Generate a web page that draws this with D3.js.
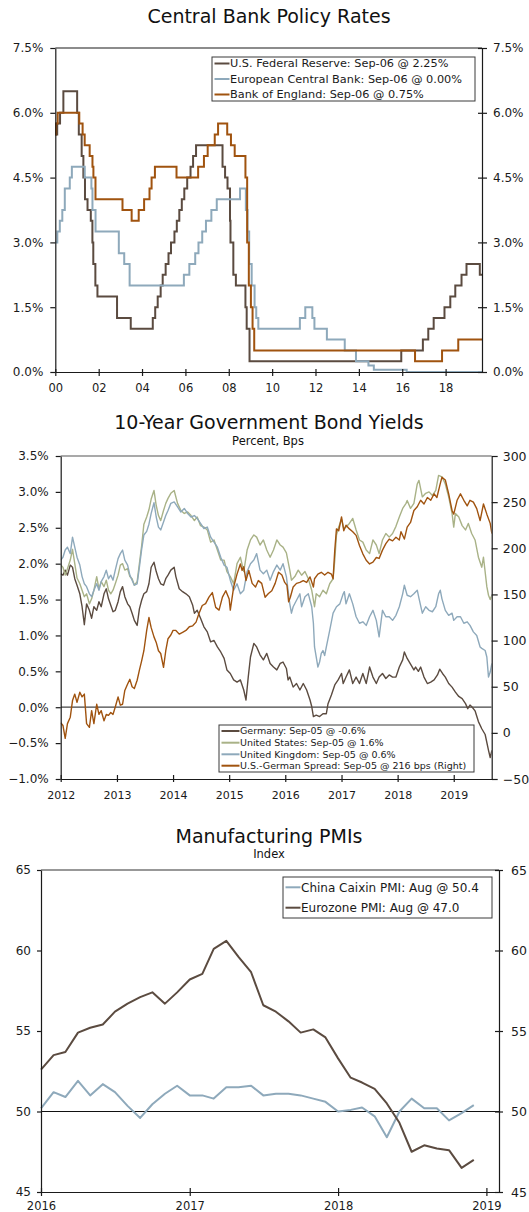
<!DOCTYPE html>
<html><head><meta charset="utf-8">
<script src="https://cdn.jsdelivr.net/npm/d3@7"></script>
<style>
body{margin:0;background:#fff;}
svg{display:block;font-family:"DejaVu Sans",Verdana,sans-serif;}
</style></head><body>
<svg id="c" width="529" height="1212"></svg>
<script>
// ---------- Chart 1 data: central bank policy rates (step changes) ----------
const fedRate = [
["2000-01-01",5.50],["2000-02-02",5.75],["2000-03-21",6.00],["2000-05-16",6.50],
["2001-01-03",6.00],["2001-01-31",5.50],["2001-03-20",5.00],["2001-04-18",4.50],["2001-05-15",4.00],["2001-06-27",3.75],["2001-08-21",3.50],["2001-09-17",3.00],["2001-10-02",2.50],["2001-11-06",2.00],["2001-12-11",1.75],
["2002-11-06",1.25],["2003-06-25",1.00],
["2004-06-30",1.25],["2004-08-10",1.50],["2004-09-21",1.75],["2004-11-10",2.00],["2004-12-14",2.25],
["2005-02-02",2.50],["2005-03-22",2.75],["2005-05-03",3.00],["2005-06-30",3.25],["2005-08-09",3.50],["2005-09-20",3.75],["2005-11-01",4.00],["2005-12-13",4.25],
["2006-01-31",4.50],["2006-03-28",4.75],["2006-05-10",5.00],["2006-06-29",5.25],
["2007-09-18",4.75],["2007-10-31",4.50],["2007-12-11",4.25],
["2008-01-22",3.50],["2008-01-30",3.00],["2008-03-18",2.25],["2008-04-30",2.00],["2008-10-08",1.50],["2008-10-29",1.00],["2008-12-16",0.25],
["2015-12-16",0.50],["2016-12-14",0.75],["2017-03-15",1.00],["2017-06-14",1.25],["2017-12-13",1.50],["2018-03-21",1.75],["2018-06-13",2.00],["2018-09-26",2.25],["2018-12-19",2.50],["2019-07-31",2.25],["2019-09-06",2.25]
];
const ecbRate = [
["2000-01-01",3.00],["2000-02-04",3.25],["2000-03-17",3.50],["2000-04-28",3.75],["2000-06-09",4.25],["2000-09-01",4.50],["2000-10-06",4.75],
["2001-05-11",4.50],["2001-08-31",4.25],["2001-09-18",3.75],["2001-11-09",3.25],
["2002-12-06",2.75],["2003-03-07",2.50],["2003-06-06",2.00],
["2005-12-06",2.25],["2006-03-08",2.50],["2006-06-15",2.75],["2006-08-09",3.00],["2006-10-11",3.25],["2006-12-13",3.50],["2007-03-14",3.75],["2007-06-13",4.00],
["2008-07-09",4.25],["2008-10-15",3.75],["2008-11-12",3.25],["2008-12-10",2.50],
["2009-01-21",2.00],["2009-03-11",1.50],["2009-04-08",1.25],["2009-05-13",1.00],
["2011-04-13",1.25],["2011-07-13",1.50],["2011-11-09",1.25],["2011-12-14",1.00],
["2012-07-11",0.75],["2013-05-08",0.50],["2013-11-13",0.25],["2014-06-11",0.15],["2014-09-10",0.05],["2016-03-16",0.00],["2019-09-06",0.00]
];
const boeRate = [
["2000-01-01",5.50],["2000-01-13",5.75],["2000-02-10",6.00],
["2001-02-08",5.75],["2001-04-05",5.50],["2001-05-10",5.25],["2001-08-02",5.00],["2001-09-18",4.75],["2001-10-04",4.50],["2001-11-08",4.00],
["2003-02-06",3.75],["2003-07-10",3.50],["2003-11-06",3.75],
["2004-02-05",4.00],["2004-05-06",4.25],["2004-06-10",4.50],["2004-08-05",4.75],
["2005-08-04",4.50],["2006-08-03",4.75],["2006-11-09",5.00],["2007-01-11",5.25],["2007-05-10",5.50],["2007-07-05",5.75],["2007-12-06",5.50],
["2008-02-07",5.25],["2008-04-10",5.00],["2008-10-08",4.50],["2008-11-06",3.00],["2008-12-04",2.00],
["2009-01-08",1.50],["2009-02-05",1.00],["2009-03-05",0.50],
["2016-08-04",0.25],["2017-11-02",0.50],["2018-08-02",0.75],["2019-09-06",0.75]
];
const rateTicks = [0,1.5,3,4.5,6,7.5];
const rateYearTicks = [2000,2002,2004,2006,2008,2010,2012,2014,2016,2018];
const rateLegend = ["U.S. Federal Reserve: Sep-06 @ 2.25%","European Central Bank: Sep-06 @ 0.00%","Bank of England: Sep-06 @ 0.75%"];

// ---------- Chart 2 data: 10-year yields (decimal year, percent) and spread (bps) ----------
const germany10y = [[2012.00,1.86],[2012.04,1.84],[2012.08,1.91],[2012.12,1.84],[2012.17,1.98],[2012.21,1.95],[2012.25,1.79],[2012.29,1.70],[2012.34,1.58],[2012.38,1.40],[2012.42,1.15],[2012.46,1.44],[2012.51,1.35],[2012.55,1.24],[2012.59,1.40],[2012.64,1.35],[2012.68,1.47],[2012.72,1.40],[2012.77,1.58],[2012.81,1.65],[2012.85,1.51],[2012.89,1.42],[2012.93,1.33],[2012.97,1.35],[2013.02,1.47],[2013.06,1.61],[2013.10,1.68],[2013.14,1.54],[2013.19,1.44],[2013.23,1.40],[2013.27,1.31],[2013.31,1.21],[2013.36,1.14],[2013.40,1.37],[2013.44,1.49],[2013.48,1.58],[2013.53,1.61],[2013.57,1.72],[2013.61,1.95],[2013.66,2.02],[2013.70,1.89],[2013.74,1.79],[2013.78,1.72],[2013.83,1.70],[2013.87,1.79],[2013.91,1.84],[2013.96,1.91],[2014.02,1.95],[2014.05,1.82],[2014.11,1.65],[2014.17,1.61],[2014.23,1.58],[2014.29,1.54],[2014.35,1.42],[2014.38,1.31],[2014.43,1.35],[2014.49,1.24],[2014.55,1.12],[2014.61,1.05],[2014.67,0.91],[2014.73,0.93],[2014.79,0.84],[2014.85,0.77],[2014.91,0.68],[2014.96,0.52],[2015.02,0.47],[2015.08,0.38],[2015.14,0.35],[2015.20,0.38],[2015.26,0.24],[2015.30,0.10],[2015.34,0.42],[2015.38,0.70],[2015.44,0.89],[2015.49,0.84],[2015.55,0.73],[2015.61,0.66],[2015.67,0.75],[2015.73,0.61],[2015.79,0.56],[2015.85,0.52],[2015.91,0.61],[2015.96,0.63],[2016.02,0.54],[2016.05,0.38],[2016.08,0.42],[2016.14,0.28],[2016.20,0.33],[2016.26,0.24],[2016.32,0.33],[2016.38,0.24],[2016.44,0.10],[2016.47,0.01],[2016.50,-0.13],[2016.55,-0.11],[2016.61,-0.13],[2016.67,-0.09],[2016.73,-0.09],[2016.76,0.05],[2016.82,0.17],[2016.88,0.31],[2016.94,0.38],[2017.00,0.47],[2017.03,0.33],[2017.08,0.42],[2017.14,0.52],[2017.20,0.33],[2017.26,0.42],[2017.32,0.33],[2017.38,0.47],[2017.44,0.33],[2017.50,0.56],[2017.56,0.42],[2017.62,0.33],[2017.67,0.42],[2017.73,0.47],[2017.79,0.40],[2017.85,0.45],[2017.91,0.42],[2017.97,0.42],[2018.03,0.56],[2018.09,0.66],[2018.12,0.77],[2018.17,0.68],[2018.23,0.60],[2018.29,0.52],[2018.32,0.56],[2018.37,0.50],[2018.41,0.56],[2018.47,0.42],[2018.53,0.33],[2018.59,0.35],[2018.65,0.38],[2018.71,0.45],[2018.75,0.53],[2018.80,0.47],[2018.85,0.42],[2018.91,0.33],[2018.97,0.28],[2019.03,0.21],[2019.09,0.15],[2019.15,0.12],[2019.21,0.05],[2019.25,-0.02],[2019.29,0.03],[2019.33,0.00],[2019.38,-0.05],[2019.44,-0.20],[2019.50,-0.30],[2019.56,-0.38],[2019.62,-0.60],[2019.65,-0.70],[2019.68,-0.60]];
const us10y = [[2012.00,1.98],[2012.04,1.95],[2012.08,1.84],[2012.12,1.93],[2012.17,2.05],[2012.21,2.20],[2012.25,2.00],[2012.29,1.80],[2012.34,1.72],[2012.38,1.63],[2012.42,1.54],[2012.46,1.58],[2012.51,1.44],[2012.55,1.51],[2012.59,1.63],[2012.64,1.82],[2012.68,1.65],[2012.72,1.75],[2012.77,1.68],[2012.81,1.77],[2012.85,1.63],[2012.89,1.58],[2012.93,1.63],[2012.97,1.72],[2013.02,1.84],[2013.06,1.98],[2013.10,2.00],[2013.14,1.91],[2013.19,1.93],[2013.23,1.82],[2013.27,1.79],[2013.31,1.70],[2013.36,1.75],[2013.40,2.00],[2013.44,2.25],[2013.48,2.55],[2013.53,2.65],[2013.57,2.75],[2013.61,2.90],[2013.66,3.02],[2013.70,2.81],[2013.74,2.67],[2013.78,2.60],[2013.83,2.74],[2013.87,2.84],[2013.91,2.91],[2013.96,2.98],[2014.02,3.02],[2014.08,2.84],[2014.14,2.74],[2014.20,2.70],[2014.26,2.72],[2014.32,2.67],[2014.38,2.60],[2014.43,2.65],[2014.49,2.53],[2014.55,2.51],[2014.61,2.47],[2014.67,2.30],[2014.73,2.33],[2014.79,2.19],[2014.85,2.05],[2014.91,2.05],[2014.96,1.89],[2015.02,1.82],[2015.08,1.72],[2015.14,2.00],[2015.20,2.09],[2015.26,1.89],[2015.32,2.19],[2015.38,2.33],[2015.44,2.40],[2015.49,2.37],[2015.55,2.26],[2015.61,2.33],[2015.67,2.19],[2015.73,2.09],[2015.79,2.19],[2015.85,2.33],[2015.91,2.26],[2015.96,2.23],[2016.02,2.15],[2016.08,1.91],[2016.11,1.77],[2016.17,1.82],[2016.23,1.91],[2016.29,1.84],[2016.35,1.89],[2016.41,1.79],[2016.47,1.63],[2016.52,1.40],[2016.55,1.58],[2016.61,1.54],[2016.67,1.63],[2016.73,1.58],[2016.79,1.72],[2016.85,1.79],[2016.88,2.05],[2016.91,2.40],[2016.95,2.51],[2017.00,2.62],[2017.04,2.49],[2017.08,2.51],[2017.14,2.56],[2017.20,2.63],[2017.26,2.47],[2017.32,2.33],[2017.38,2.30],[2017.44,2.19],[2017.50,2.14],[2017.56,2.33],[2017.62,2.26],[2017.67,2.14],[2017.73,2.33],[2017.79,2.42],[2017.85,2.37],[2017.91,2.42],[2017.97,2.52],[2018.03,2.65],[2018.09,2.77],[2018.15,2.84],[2018.17,2.88],[2018.23,2.77],[2018.29,2.84],[2018.35,3.11],[2018.38,3.16],[2018.44,2.93],[2018.50,2.98],[2018.56,3.00],[2018.62,2.95],[2018.68,3.02],[2018.73,3.23],[2018.79,3.21],[2018.85,3.11],[2018.91,2.93],[2018.97,2.70],[2019.00,2.51],[2019.03,2.70],[2019.09,2.65],[2019.15,2.53],[2019.21,2.47],[2019.26,2.56],[2019.32,2.42],[2019.38,2.33],[2019.44,2.09],[2019.50,1.95],[2019.53,2.09],[2019.59,1.68],[2019.62,1.56],[2019.65,1.50],[2019.68,1.56]];
const uk10y = [[2012.00,2.05],[2012.04,2.09],[2012.08,2.19],[2012.12,2.23],[2012.17,2.14],[2012.21,2.37],[2012.25,2.23],[2012.29,2.09],[2012.34,1.98],[2012.38,1.82],[2012.42,1.72],[2012.46,1.68],[2012.51,1.58],[2012.55,1.54],[2012.59,1.63],[2012.64,1.72],[2012.68,1.63],[2012.72,1.75],[2012.77,1.82],[2012.81,1.91],[2012.85,1.79],[2012.89,1.84],[2012.93,1.77],[2012.97,1.91],[2013.02,2.07],[2013.06,2.14],[2013.10,2.19],[2013.14,2.05],[2013.19,1.98],[2013.23,1.84],[2013.27,1.77],[2013.31,1.70],[2013.36,1.72],[2013.40,1.95],[2013.44,2.20],[2013.48,2.40],[2013.53,2.45],[2013.57,2.55],[2013.61,2.70],[2013.66,2.85],[2013.70,2.65],[2013.74,2.51],[2013.78,2.47],[2013.83,2.58],[2013.87,2.67],[2013.91,2.74],[2013.96,2.84],[2014.02,2.86],[2014.08,2.79],[2014.14,2.72],[2014.20,2.77],[2014.26,2.70],[2014.32,2.65],[2014.38,2.67],[2014.43,2.63],[2014.49,2.56],[2014.55,2.49],[2014.61,2.51],[2014.67,2.37],[2014.73,2.30],[2014.79,2.23],[2014.85,2.09],[2014.91,1.98],[2014.96,1.95],[2015.02,1.77],[2015.08,1.63],[2015.14,1.72],[2015.20,1.58],[2015.26,1.63],[2015.32,1.89],[2015.38,2.00],[2015.44,2.05],[2015.49,2.14],[2015.55,1.91],[2015.61,1.86],[2015.67,1.91],[2015.73,1.77],[2015.79,1.89],[2015.85,1.98],[2015.91,1.91],[2015.96,2.00],[2016.02,1.82],[2016.08,1.44],[2016.11,1.31],[2016.14,1.40],[2016.20,1.49],[2016.26,1.58],[2016.29,1.40],[2016.35,1.54],[2016.41,1.58],[2016.47,1.40],[2016.50,1.17],[2016.52,0.84],[2016.55,0.70],[2016.58,0.56],[2016.61,0.63],[2016.64,0.75],[2016.67,0.79],[2016.70,0.72],[2016.73,0.84],[2016.79,1.07],[2016.85,1.31],[2016.91,1.40],[2016.97,1.44],[2017.03,1.58],[2017.05,1.61],[2017.08,1.44],[2017.14,1.58],[2017.20,1.44],[2017.26,1.26],[2017.32,1.17],[2017.38,1.19],[2017.44,1.14],[2017.50,1.26],[2017.56,1.35],[2017.62,1.21],[2017.67,0.98],[2017.73,1.35],[2017.79,1.26],[2017.85,1.26],[2017.91,1.21],[2017.97,1.28],[2018.03,1.40],[2018.09,1.58],[2018.12,1.70],[2018.17,1.56],[2018.23,1.54],[2018.29,1.58],[2018.35,1.63],[2018.38,1.52],[2018.44,1.31],[2018.50,1.40],[2018.56,1.35],[2018.62,1.33],[2018.68,1.40],[2018.73,1.58],[2018.76,1.63],[2018.79,1.51],[2018.85,1.35],[2018.91,1.28],[2018.97,1.31],[2019.00,1.21],[2019.06,1.26],[2019.12,1.26],[2019.18,1.17],[2019.24,1.19],[2019.29,1.14],[2019.35,1.05],[2019.41,1.00],[2019.47,0.84],[2019.50,0.82],[2019.56,0.79],[2019.59,0.70],[2019.62,0.42],[2019.65,0.49],[2019.68,0.61]];
const usGerSpread = [[2012.00,11],[2012.04,8],[2012.08,-6],[2012.12,10],[2012.17,17],[2012.21,35],[2012.25,42],[2012.29,33],[2012.34,44],[2012.38,39],[2012.42,42],[2012.46,10],[2012.51,6],[2012.55,24],[2012.59,10],[2012.64,31],[2012.68,20],[2012.72,24],[2012.77,13],[2012.81,20],[2012.85,19],[2012.89,22],[2012.93,20],[2012.97,28],[2013.02,39],[2013.06,30],[2013.10,31],[2013.14,46],[2013.19,53],[2013.23,58],[2013.27,50],[2013.31,48],[2013.36,57],[2013.40,68],[2013.44,78],[2013.48,89],[2013.53,111],[2013.57,125],[2013.61,114],[2013.66,104],[2013.70,98],[2013.74,89],[2013.78,86],[2013.83,71],[2013.87,89],[2013.91,102],[2013.96,106],[2014.00,111],[2014.05,111],[2014.11,107],[2014.17,109],[2014.23,111],[2014.29,115],[2014.35,116],[2014.41,120],[2014.46,129],[2014.52,138],[2014.58,140],[2014.64,147],[2014.70,152],[2014.76,136],[2014.82,133],[2014.88,147],[2014.94,154],[2015.00,145],[2015.02,133],[2015.08,158],[2015.14,172],[2015.20,183],[2015.23,176],[2015.26,180],[2015.30,165],[2015.35,176],[2015.41,162],[2015.47,158],[2015.52,165],[2015.58,162],[2015.64,147],[2015.70,151],[2015.76,154],[2015.82,162],[2015.88,174],[2015.94,171],[2015.99,163],[2016.03,160],[2016.06,142],[2016.09,147],[2016.14,158],[2016.20,162],[2016.26,163],[2016.32,165],[2016.38,163],[2016.44,169],[2016.50,158],[2016.52,167],[2016.58,172],[2016.64,174],[2016.70,171],[2016.76,174],[2016.82,172],[2016.85,167],[2016.88,198],[2016.91,221],[2016.95,219],[2017.00,234],[2017.04,219],[2017.08,225],[2017.14,221],[2017.20,218],[2017.26,214],[2017.32,203],[2017.38,194],[2017.44,187],[2017.50,183],[2017.56,185],[2017.62,190],[2017.67,189],[2017.73,198],[2017.79,205],[2017.85,210],[2017.91,208],[2017.97,212],[2018.03,209],[2018.06,218],[2018.12,210],[2018.17,223],[2018.23,228],[2018.29,241],[2018.35,245],[2018.41,252],[2018.47,248],[2018.53,255],[2018.59,252],[2018.65,259],[2018.70,255],[2018.76,270],[2018.79,277],[2018.85,274],[2018.91,259],[2018.97,241],[2019.00,237],[2019.06,252],[2019.12,259],[2019.18,252],[2019.24,246],[2019.29,252],[2019.35,250],[2019.41,243],[2019.47,230],[2019.53,248],[2019.59,237],[2019.65,227],[2019.68,216]];
const yieldTicks = [-1,-0.5,0,0.5,1,1.5,2,2.5,3,3.5];
const spreadTicks = [-50,0,50,100,150,200,250,300];
const yieldYearTicks = [2012,2013,2014,2015,2016,2017,2018,2019];
const yieldLegend = ["Germany: Sep-05 @ -0.6%","United States: Sep-05 @ 1.6%","United Kingdom: Sep-05 @ 0.6%","U.S.-German Spread: Sep-05 @ 216 bps (Right)"];

// ---------- Chart 3 data: manufacturing PMIs (monthly) ----------
const pmiMonths = d3.range(36).map(i => new Date(Date.UTC(2016, i, 1)));
const chinaPMI = [50.2,51.2,50.9,51.9,51.0,51.7,51.2,50.35,49.6,50.45,51.1,51.6,51.0,51.0,50.8,51.5,51.5,51.6,51.0,51.1,51.1,51.0,50.8,50.6,50.0,50.1,50.25,49.7,48.4,50.0,50.8,50.2,50.2,49.45,49.9,50.4];
const euroPMI = [52.6,53.5,53.7,54.9,55.2,55.4,56.2,56.7,57.1,57.4,56.7,57.4,58.2,58.55,60.1,60.6,59.6,58.65,56.6,56.2,55.6,54.9,55.1,54.6,53.3,52.1,51.8,51.4,50.5,49.3,47.5,47.9,47.7,47.6,46.5,47.0];
const pmiTicks = [45,50,55,60,65];
const pmiYearTicks = [2016,2017,2018,2019];
const pmiLegend = ["China Caixin PMI: Aug @ 50.4","Eurozone PMI: Aug @ 47.0"];

// ---------- styles ----------
const DARK = "#5b4b40", BLUE = "#8ea9bb", ORANGE = "#a0530f", KHAKI = "#a9b287";
const AXIS = "#1a1a1a";

const svg = d3.select("#c");
const parse = d3.utcParse("%Y-%m-%d");
const decYear = y => { const yr = Math.floor(y); const s = Date.UTC(yr,0,1), e = Date.UTC(yr+1,0,1); return new Date(s + (y-yr)*(e-s)); };
const yr = y => new Date(Date.UTC(y,0,1));
const pct = d => d3.format(".1f")(d) + "%";

function styleAxis(g, fs) {
  g.selectAll(".domain").attr("stroke", AXIS).attr("stroke-width", 1.2);
  g.selectAll(".tick line").attr("stroke", AXIS).attr("stroke-width", 1.2);
  g.selectAll(".tick text").attr("fill", "#1a1a1a").style("font-size", fs + "px").style("font-family", "DejaVu Sans, Verdana, sans-serif");
}
function title(txt, y, size) {
  svg.append("text").attr("x", 269).attr("y", y).attr("text-anchor", "middle")
    .style("font-size", size + "px").attr("fill", "#111").text(txt);
}
function legend(x, y, w, h, rowY, items, colors, fs, sw) {
  const g = svg.append("g");
  g.append("rect").attr("x", x).attr("y", y).attr("width", w).attr("height", h)
    .attr("fill", "#fff").attr("stroke", "#3a3a3a").attr("stroke-width", 1);
  items.forEach((t, i) => {
    g.append("line").attr("x1", x + 2.5).attr("x2", x + 2.5 + sw).attr("y1", rowY[i]).attr("y2", rowY[i])
      .attr("stroke", colors[i]).attr("stroke-width", 2);
    g.append("text").attr("x", x + 3 + sw).attr("y", rowY[i]).attr("dy", "0.35em")
      .style("font-size", fs + "px").attr("fill", "#1a1a1a").text(t);
  });
}

// =================== Chart 1 ===================
{
  const L = 55.3, R = 482, T = 48, B = 372;
  title("Central Bank Policy Rates", 23, 19);
  const x = d3.scaleUtc().domain([yr(2000), parse("2019-09-06")]).range([L, R]);
  const y = d3.scaleLinear().domain([0, 7.5]).range([B, T]);
  const line = d3.line().curve(d3.curveStepAfter).x(d => x(parse(d[0]))).y(d => y(d[1]));
  [[fedRate, DARK], [ecbRate, BLUE], [boeRate, ORANGE]].forEach(([data, c]) => {
    svg.append("path").datum(data).attr("d", line).attr("fill", "none")
      .attr("stroke", c).attr("stroke-width", 2).attr("stroke-linejoin", "miter");
  });
  svg.append("line").attr("x1", L).attr("x2", R).attr("y1", T).attr("y2", T).attr("stroke", AXIS).attr("stroke-width", 1.2);
  const gl = svg.append("g").attr("transform", `translate(${L},0)`)
    .call(d3.axisLeft(y).tickValues(rateTicks).tickFormat(pct).tickSizeInner(5).tickSizeOuter(0).tickPadding(7));
  styleAxis(gl, 12);
  const gr = svg.append("g").attr("transform", `translate(${R},0)`)
    .call(d3.axisRight(y).tickValues(rateTicks).tickFormat(pct).tickSizeInner(5).tickSizeOuter(0).tickPadding(6));
  gr.selectAll(".tick line").attr("x1", -4);
  styleAxis(gr, 12);
  const gb = svg.append("g").attr("transform", `translate(0,${B})`)
    .call(d3.axisBottom(x).tickValues(rateYearTicks.map(yr)).tickFormat(d3.utcFormat("%y")).tickSizeInner(4).tickSizeOuter(0).tickPadding(8));
  gb.selectAll(".tick line").attr("y1", -3);
  styleAxis(gb, 11.5);
  legend(212, 57, 263, 44, [63.5, 79, 94.5], rateLegend, [DARK, BLUE, ORANGE], 11.3, 15);
}

// =================== Chart 2 ===================
{
  const L = 60.7, R = 491.7, T = 456, B = 779;
  title("10-Year Government Bond Yields", 429, 19);
  svg.append("text").attr("x", 268).attr("y", 445).attr("text-anchor", "middle")
    .style("font-size", "11.5px").attr("fill", "#111").text("Percent, Bps");
  const x = d3.scaleUtc().domain([yr(2012), parse("2019-09-05")]).range([L, R]);
  const yL = d3.scaleLinear().domain([-1, 3.5]).range([B, T]);
  const yR = d3.scaleLinear().domain([-50, 300]).range([B, T]);
  svg.append("clipPath").attr("id", "clip2").append("rect").attr("x", L).attr("y", T).attr("width", R - L).attr("height", B - T);
  const plot = svg.append("g").attr("clip-path", "url(#clip2)");
  plot.append("line").attr("x1", L).attr("x2", R).attr("y1", yL(0)).attr("y2", yL(0)).attr("stroke", "#444").attr("stroke-width", 1.2);
  const lineL = d3.line().x(d => x(decYear(d[0]))).y(d => yL(d[1]));
  const lineR = d3.line().x(d => x(decYear(d[0]))).y(d => yR(d[1]));
  [[germany10y, DARK], [us10y, KHAKI], [uk10y, BLUE]].forEach(([data, c]) => {
    plot.append("path").datum(data).attr("d", lineL).attr("fill", "none").attr("stroke", c).attr("stroke-width", 1.4).attr("stroke-linejoin", "round");
  });
  plot.append("path").datum(usGerSpread).attr("d", lineR).attr("fill", "none").attr("stroke", ORANGE).attr("stroke-width", 1.4).attr("stroke-linejoin", "round");
  svg.append("line").attr("x1", L).attr("x2", R).attr("y1", T).attr("y2", T).attr("stroke", "#555").attr("stroke-width", 1.2);
  const gl = svg.append("g").attr("transform", `translate(${L},0)`)
    .call(d3.axisLeft(yL).tickValues(yieldTicks).tickFormat(pct).tickSizeInner(5).tickSizeOuter(0).tickPadding(7));
  styleAxis(gl, 12);
  const gr = svg.append("g").attr("transform", `translate(${R},0)`)
    .call(d3.axisRight(yR).tickValues(spreadTicks).tickFormat(d3.format("d")).tickSizeInner(6).tickSizeOuter(0).tickPadding(5));
  styleAxis(gr, 12.5);
  const gb = svg.append("g").attr("transform", `translate(0,${B})`)
    .call(d3.axisBottom(x).tickValues(yieldYearTicks.map(yr)).tickFormat(d3.utcFormat("%Y")).tickSizeInner(3).tickSizeOuter(0).tickPadding(9));
  gb.selectAll(".tick line").attr("y1", -4);
  styleAxis(gb, 11);
  legend(219, 725, 255, 47, [731, 742.7, 754.3, 765.7], yieldLegend, [DARK, KHAKI, BLUE, ORANGE], 9.5, 18);
}

// =================== Chart 3 ===================
{
  const L = 41, R = 499, T = 870, B = 1192;
  title("Manufacturing PMIs", 843, 19);
  svg.append("text").attr("x", 269).attr("y", 858).attr("text-anchor", "middle")
    .style("font-size", "11.5px").attr("fill", "#111").text("Index");
  const x = d3.scaleUtc().domain([yr(2016), new Date(Date.UTC(2019, 1, 1))]).range([L, R]);
  const y = d3.scaleLinear().domain([45, 65]).range([B, T]);
  svg.append("line").attr("x1", L).attr("x2", R).attr("y1", y(50)).attr("y2", y(50)).attr("stroke", "#111").attr("stroke-width", 1.2);
  const line = d3.line().x((d, i) => x(pmiMonths[i])).y(d => y(d));
  [[chinaPMI, BLUE], [euroPMI, DARK]].forEach(([data, c]) => {
    svg.append("path").datum(data).attr("d", line).attr("fill", "none").attr("stroke", c).attr("stroke-width", 2).attr("stroke-linejoin", "round");
  });
  svg.append("line").attr("x1", L).attr("x2", R).attr("y1", T).attr("y2", T).attr("stroke", "#333").attr("stroke-width", 1.2);
  const gl = svg.append("g").attr("transform", `translate(${L},0)`)
    .call(d3.axisLeft(y).tickValues(pmiTicks).tickFormat(d3.format("d")).tickSizeInner(4).tickSizeOuter(0).tickPadding(6));
  styleAxis(gl, 12);
  const gr = svg.append("g").attr("transform", `translate(${R},0)`)
    .call(d3.axisRight(y).tickValues(pmiTicks).tickFormat(d3.format("d")).tickSizeInner(4).tickSizeOuter(0).tickPadding(8));
  gr.selectAll(".tick line").attr("x1", -4);
  styleAxis(gr, 12.5);
  const gb = svg.append("g").attr("transform", `translate(0,${B})`)
    .call(d3.axisBottom(x).tickValues(pmiYearTicks.map(yr)).tickFormat(d3.utcFormat("%Y")).tickSizeInner(4).tickSizeOuter(0).tickPadding(6));
  gb.selectAll(".tick line").attr("y1", -4);
  styleAxis(gb, 11.5);
  legend(283, 877, 209, 41, [887.3, 907.7], pmiLegend, [BLUE, DARK], 12, 15);
}
</script>
</body></html>
